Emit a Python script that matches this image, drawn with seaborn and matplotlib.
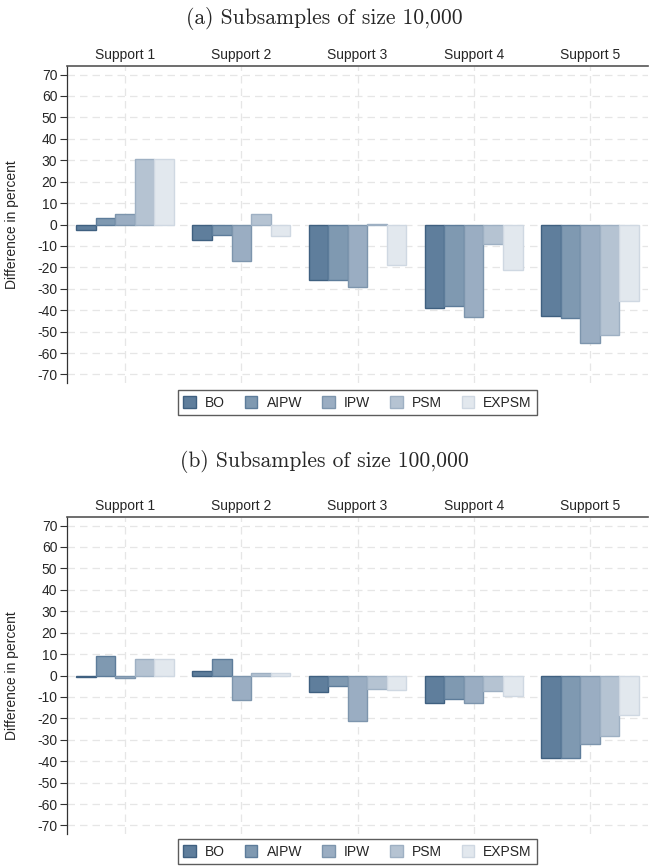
import pandas as pd
import matplotlib.pyplot as plt
import seaborn as sns

# Values (difference in percent)
supports = ['Support 1', 'Support 2', 'Support 3', 'Support 4', 'Support 5']
methods = ['BO', 'AIPW', 'IPW', 'PSM', 'EXPSM']

# (a) subsamples of size 10,000
bo_a = [-2.6, -7.3, -26.0, -39.0, -42.8]
aipw_a = [3.1, -5.0, -26.0, -38.1, -43.5]
ipw_a = [5.1, -17.1, -29.1, -43.1, -55.4]
psm_a = [30.8, 5.1, 0.3, -8.9, -51.5]
expsm_a = [30.8, -5.4, -18.7, -21.2, -35.9]

# (b) subsamples of size 100,000
bo_b = [-0.5, 2.2, -7.6, -13.0, -38.7]
aipw_b = [9.3, 7.6, -4.7, -10.9, -38.7]
ipw_b = [-1.1, -11.5, -21.3, -13.0, -32.1]
psm_b = [7.6, 1.2, -6.1, -7.3, -28.1]
expsm_b = [7.6, 1.2, -6.8, -9.8, -18.5]

yticks = list(range(-70, 80, 10))

fills = ['#5f7e9c', '#7f99b1', '#9aadc2', '#b5c3d2', '#e2e8ee']
edges = ['#3f6080', '#5d7c9a', '#7d95ad', '#9eb0c3', '#cfd8e2']


def to_long(series):
    rows = []
    for m, vals in zip(methods, series):
        for s, v in zip(supports, vals):
            rows.append({'support': s, 'method': m, 'value': v})
    return pd.DataFrame(rows)


df_a = to_long([bo_a, aipw_a, ipw_a, psm_a, expsm_a])
df_b = to_long([bo_b, aipw_b, ipw_b, psm_b, expsm_b])

sns.set_style('white')
plt.rcParams['font.family'] = ['Liberation Sans', 'DejaVu Sans']
plt.rcParams['axes.unicode_minus'] = False

W, H = 649, 867
fig = plt.figure(figsize=(W / 100, H / 100), dpi=100)


def panel(df, top_px, bottom_px, title, title_px, legend_px):
    ax = fig.add_axes([67 / W, 1 - bottom_px / H, 581 / W, (bottom_px - top_px) / H])
    sns.barplot(data=df, x='support', y='value', hue='method', order=supports,
                hue_order=methods, palette=fills, width=0.84, ax=ax,
                errorbar=None, linewidth=1, saturation=1)
    for cont, ec in zip(ax.containers, edges):
        for bar in cont:
            bar.set_edgecolor(ec)
            bar.set_linewidth(1.0)

    ax.set_ylim(-74, 74)
    ax.set_xlim(-0.5, 4.5)
    ax.set_yticks(yticks)
    ax.set_yticklabels([str(t) for t in yticks], fontsize=10)
    ax.set_ylabel('Difference in percent', fontsize=10, labelpad=13)
    ax.set_xlabel('')
    ax.xaxis.tick_top()
    ax.tick_params(axis='x', length=0, labelsize=10, pad=3)
    ax.tick_params(axis='y', length=5, width=0.8, color='#333333', left=True, pad=2)

    ax.grid(True, color='#e6e6e6', linestyle=(0, (6, 4)), linewidth=0.9)
    ax.set_axisbelow(True)

    for side in ['right', 'bottom']:
        ax.spines[side].set_visible(False)
    ax.spines['top'].set_color('#555555')
    ax.spines['top'].set_linewidth(1.2)
    ax.spines['left'].set_color('#333333')
    ax.spines['left'].set_linewidth(0.9)

    handles, labels = ax.get_legend_handles_labels()
    ax.get_legend().remove()
    leg = fig.legend(handles, labels, loc='upper center',
                     bbox_to_anchor=(357.5 / W, 1 - legend_px / H), ncol=5,
                     fontsize=10, frameon=True, fancybox=False, handlelength=0.9,
                     handleheight=0.9, handletextpad=0.65, columnspacing=1.45,
                     borderpad=0.4, borderaxespad=0, edgecolor='#333333')
    leg.get_frame().set_linewidth(1.0)
    for h, ec in zip(leg.legend_handles, edges):
        h.set_edgecolor(ec)

    fig.text(0.5, 1 - title_px / H, title, ha='center', va='center',
             fontsize=15.5, family='cmr10')
    return ax


panel(df_a, 66, 383, '(a) Subsamples of size 10,000', 18, 390)
panel(df_b, 517, 834, '(b) Subsamples of size 100,000', 462, 839)

plt.savefig('out.png', dpi=100)
